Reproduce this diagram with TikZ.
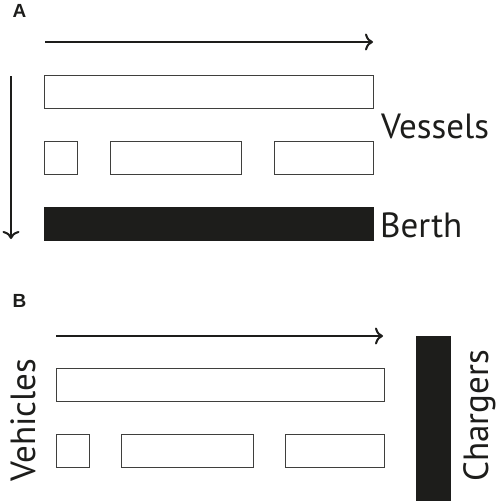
\documentclass[tikz,border=0pt]{standalone}
\usepackage{fontspec}
\setmainfont{PT Sans}
\newfontfamily\tagfont{Liberation Sans}
\usetikzlibrary{arrows.meta}
\definecolor{ink}{HTML}{1D1D1B}
\begin{document}
\begin{tikzpicture}[x=1pt, y=-1pt,
    slot/.style={draw=ink!85, line width=1pt, inner sep=0pt, minimum height=33pt},
    bar/.style={fill=ink, draw=ink, inner sep=0pt},
    axis/.style={line width=2pt, ink, -{Computer Modern Rightarrow[length=8pt,width=17pt]}},
    lbl/.style={inner sep=0pt, text=ink, font=\fontsize{35}{38}\selectfont},
    paneltag/.style={inner sep=0pt, text=ink, font=\tagfont\bfseries\fontsize{19}{21}\selectfont}]
    \useasboundingbox (0,0) rectangle (498,501);

    % Panel A
    \node[paneltag] (tagA) at (19.5,10.5) {A};
    \coordinate (tA0) at (45,42);
    \coordinate (tA1) at (373,42);
    \draw[axis] (tA0) -- (tA1);
    \coordinate (qA0) at (11,76);
    \coordinate (qA1) at (11,239);
    \draw[axis] (qA0) -- (qA1);

    % Vessels
    \node[slot, minimum width=329pt] (va1) at (208.5,92) {};
    \node[slot, minimum width=33.5pt] (va2) at (60.75,157.5) {};
    \node[slot, minimum width=131.5pt] (va3) at (175.75,157.5) {};
    \node[slot, minimum width=99pt] (va4) at (323.5,157.5) {};
    \node[bar, minimum width=329pt, minimum height=33pt] (berth) at (208.5,223.5) {};
    \node[lbl, anchor=base west] (vessels) at (381,138) {Vessels};
    \node[lbl, anchor=base west] (berthlbl) at (380,237) {Berth};

    % Panel B
    \node[paneltag] (tagB) at (19.5,300.5) {B};
    \coordinate (tB0) at (56,336);
    \coordinate (tB1) at (383,336);
    \draw[axis] (tB0) -- (tB1);

    % Vehicles
    \node[slot, minimum width=328.3pt] (vb1) at (220.2,385.3) {};
    \node[slot, minimum width=33pt] (vb2) at (72.5,450.8) {};
    \node[slot, minimum width=131.6pt] (vb3) at (187.5,450.8) {};
    \node[slot, minimum width=98.6pt] (vb4) at (335,450.8) {};
    \node[bar, minimum width=33.3pt, minimum height=164pt] (chargers) at (433.3,418) {};
    \node[lbl, anchor=base, rotate=90] (vehicles) at (35,420) {Vehicles};
    \node[lbl, anchor=base, rotate=90] (chargerslbl) at (488.5,416) {Chargers};
\end{tikzpicture}
\end{document}
